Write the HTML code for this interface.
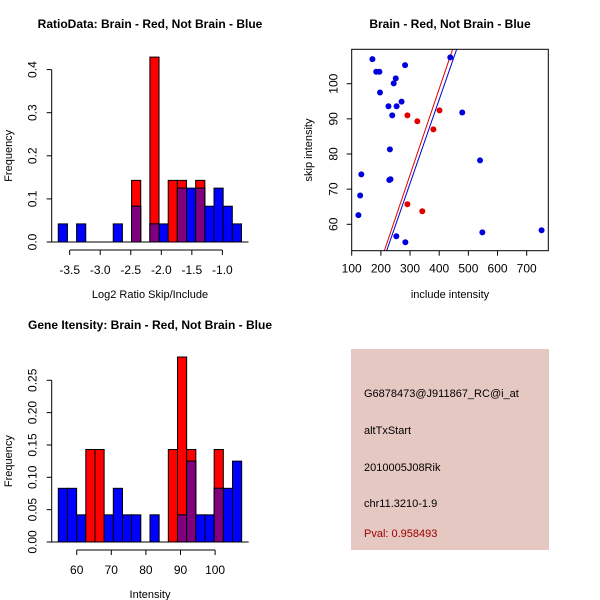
<!DOCTYPE html>
<html><head><meta charset="utf-8"><style>
body{margin:0;background:#fff}
svg{display:block;font-family:"Liberation Sans",sans-serif}
</style></head><body>
<svg id="c" width="600" height="600" xmlns="http://www.w3.org/2000/svg">
<rect width="600" height="600" fill="#fff"/>
<g id="g1"></g>
<g id="g2"></g>
<g id="g3"></g>
<g>
<rect x="351" y="349" width="198" height="201" fill="#e6c8c2"/>
<text x="364" y="397" font-size="11">G6878473@J911867_RC@i_at</text>
<text x="364" y="434" font-size="11">altTxStart</text>
<text x="364" y="471" font-size="11">2010005J08Rik</text>
<text x="364" y="507" font-size="11">chr11.3210-1.9</text>
<text x="364" y="537" font-size="11" fill="#a00000">Pval: 0.958493</text>
</g>
</svg>
<script>
// Histogram 1 data
const h1Start = -3.687, h1Width = 0.15;
const h1Red  = [0,0,0,0,0,0,0,0,0.143,0,0.429,0,0.143,0.143,0,0.143,0,0,0,0];
const h1Blue = [0.042,0,0.042,0,0,0,0.042,0,0.083,0,0.042,0.042,0,0.125,0.125,0.125,0.083,0.125,0.083,0.042];
const h1XTicks = [-3.5,-3.0,-2.5,-2.0,-1.5,-1.0];
const h1XLabels = ["-3.5","-3.0","-2.5","-2.0","-1.5","-1.0"];
const h1YTicks = [0,0.1,0.2,0.3,0.4];
const h1YLabels = ["0.0","0.1","0.2","0.3","0.4"];
// Histogram 2 data
const h2Start = 54.68, h2Width = 2.65;
const h2Red  = [0,0,0,0.143,0.143,0,0,0,0,0,0,0,0.143,0.286,0.143,0,0,0.143,0,0];
const h2Blue = [0.083,0.083,0.042,0,0,0.042,0.083,0.042,0.042,0,0.042,0,0,0.042,0.125,0.042,0.042,0.083,0.083,0.125];
const h2XTicks = [60,70,80,90,100];
const h2XLabels = ["60","70","80","90","100"];
const h2YTicks = [0,0.05,0.1,0.15,0.2,0.25];
const h2YLabels = ["0.00","0.05","0.10","0.15","0.20","0.25"];
// Scatter data
const blueX = [171,283,184,195,251,244,197,271,226,254,239,479,231,540,133,229,233,129,123,253,284,548,751,438];
const blueY = [107.0,105.3,103.4,103.4,101.5,100.1,97.5,94.9,93.6,93.6,91.0,91.8,81.3,78.2,74.2,72.6,72.8,68.2,62.6,56.6,54.9,57.7,58.3,107.5];
const redX = [291,325,380,401,291,342];
const redY = [91.0,89.3,87.0,92.4,65.7,63.7];
const redLine = [0.58, 0.2449];   // intercept, slope
const blueLine = [-0.03, 0.2388];
const scXTicks = [100,200,300,400,500,600,700];
const scYTicks = [60,70,80,90,100];

const NS="http://www.w3.org/2000/svg";
function mk(parent,tag,attrs,txt){const e=document.createElementNS(NS,tag);for(const k in attrs)e.setAttribute(k,attrs[k]);if(txt!==undefined)e.textContent=txt;parent.appendChild(e);return e;}

function hist(g,o){
  const sx=v=>o.x0px+(v-o.x0)*o.kx, sy=v=>o.y0px-v*o.ky;
  for(let i=0;i<o.red.length;i++){
    const a=sx(o.start+i*o.w), b=sx(o.start+(i+1)*o.w);
    const r=o.red[i], bl=o.blue[i];
    if(r>0){const e=mk(g,'rect',{x:a,y:sy(r),width:b-a,height:sy(0)-sy(r),fill:'#ff0000',stroke:'#000','stroke-width':1});
      
      }
    if(bl>0){const e=mk(g,'rect',{x:a,y:sy(bl),width:b-a,height:sy(0)-sy(bl),fill:'#0000ff',stroke:'#000','stroke-width':1});
      
      }
    const m=Math.min(r,bl);
    if(m>0){const e=mk(g,'rect',{x:a,y:sy(m),width:b-a,height:sy(0)-sy(m),fill:'#800080',stroke:'#000','stroke-width':1});
      
      }
  }
  mk(g,'line',{x1:sx(o.start)-7,x2:sx(o.start+o.red.length*o.w)+7,y1:sy(0),y2:sy(0),stroke:'#000'});
  const xa=o.xt, ya=o.y0px+8;
  let e=mk(g,'line',{x1:sx(xa[0]),x2:sx(xa[xa.length-1]),y1:ya,y2:ya,stroke:'#000'});
  
  
  xa.forEach((t,i)=>{mk(g,'line',{x1:sx(t),x2:sx(t),y1:ya,y2:ya+5,stroke:'#000'});
    const l=mk(g,'text',{x:sx(t),y:ya+24,'font-size':12,'text-anchor':'middle'},o.xl[i]);
    
    });
  const yx=51.7, yt=o.yt;
  e=mk(g,'line',{x1:yx,x2:yx,y1:sy(yt[0]),y2:sy(yt[yt.length-1]),stroke:'#000'});
  
  
  yt.forEach((t,i)=>{mk(g,'line',{x1:yx-5,x2:yx,y1:sy(t),y2:sy(t),stroke:'#000'});
    const l=mk(g,'text',{x:0,y:0,'font-size':12,'text-anchor':'middle',transform:`translate(${yx-15},${sy(t)}) rotate(-90)`},o.yl[i]);
    
    });
  let t=mk(g,'text',{x:0,y:0,'font-size':11,'text-anchor':'middle',transform:`translate(12,${(sy(yt[0])+sy(yt[yt.length-1]))/2}) rotate(-90)`},'Frequency');
  
  
  t=mk(g,'text',{x:150,y:o.y0px+56,'font-size':11,'text-anchor':'middle'},o.xtitle);
  
  
  t=mk(g,'text',{x:150,y:o.titleY,'font-size':12,'font-weight':'bold','text-anchor':'middle'},o.title);
  
  
}
hist(document.getElementById('g1'),{x0:-3.5,x0px:69.7,kx:61.07,y0px:242,ky:431,start:h1Start,w:h1Width,red:h1Red,blue:h1Blue,xt:h1XTicks,xl:h1XLabels,yt:h1YTicks,yl:h1YLabels,xtitle:'Log2 Ratio Skip/Include',title:'RatioData: Brain - Red, Not Brain - Blue',titleY:28});
hist(document.getElementById('g3'),{x0:60,x0px:76.7,kx:3.46,y0px:542,ky:646.8,start:h2Start,w:h2Width,red:h2Red,blue:h2Blue,xt:h2XTicks,xl:h2XLabels,yt:h2YTicks,yl:h2YLabels,xtitle:'Intensity',title:'Gene Itensity: Brain - Red, Not Brain - Blue',titleY:329});

(function(){
  const g=document.getElementById('g2');
  const L=351.7,R=548.3,T=49.3,B=250.7;
  const sx=v=>351.7+(v-100)*0.29167, sy=v=>224.3-(v-60)*3.515;
  const cp=mk(g,'clipPath',{id:'clp'});
  mk(cp,'rect',{x:L,y:T,width:R-L,height:B-T});
  const pts=mk(g,'g',{'clip-path':'url(#clp)'});
  [[redLine,'#e00000','red-fit-line'],[blueLine,'#0000cc','blue-fit-line']].forEach(([ln,c,n])=>{
    const xa=0,xb=900;
    const e=mk(pts,'line',{x1:sx(xa),y1:sy(ln[0]+ln[1]*xa),x2:sx(xb),y2:sy(ln[0]+ln[1]*xb),stroke:c,'stroke-width':1});
    
    
  });
  redX.forEach((x,i)=>{const e=mk(pts,'circle',{cx:sx(x),cy:sy(redY[i]),r:3,fill:'#e00000'});
    
    });
  blueX.forEach((x,i)=>{const e=mk(pts,'circle',{cx:sx(x),cy:sy(blueY[i]),r:3,fill:'#0000dd'});
    
    });
  let e=mk(g,'rect',{x:L,y:T,width:R-L,height:B-T,fill:'none',stroke:'#000'});
  
  
  scXTicks.forEach(t=>{mk(g,'line',{x1:sx(t),x2:sx(t),y1:B,y2:B+5,stroke:'#000'});
    const l=mk(g,'text',{x:sx(t),y:B+22,'font-size':12,'text-anchor':'middle'},String(t));
    
    });
  scYTicks.forEach(t=>{mk(g,'line',{x1:L-5,x2:L,y1:sy(t),y2:sy(t),stroke:'#000'});
    const l=mk(g,'text',{x:0,y:0,'font-size':12,'text-anchor':'middle',transform:`translate(${L-14},${sy(t)}) rotate(-90)`},String(t));
    
    });
  let t=mk(g,'text',{x:450,y:298,'font-size':11,'text-anchor':'middle'},'include intensity');
  
  
  t=mk(g,'text',{x:0,y:0,'font-size':11,'text-anchor':'middle',transform:`translate(312,150) rotate(-90)`},'skip intensity');
  
  
  t=mk(g,'text',{x:450,y:28,'font-size':12,'font-weight':'bold','text-anchor':'middle'},'Brain - Red, Not Brain - Blue');
  
  
})();
</script>
</body></html>
